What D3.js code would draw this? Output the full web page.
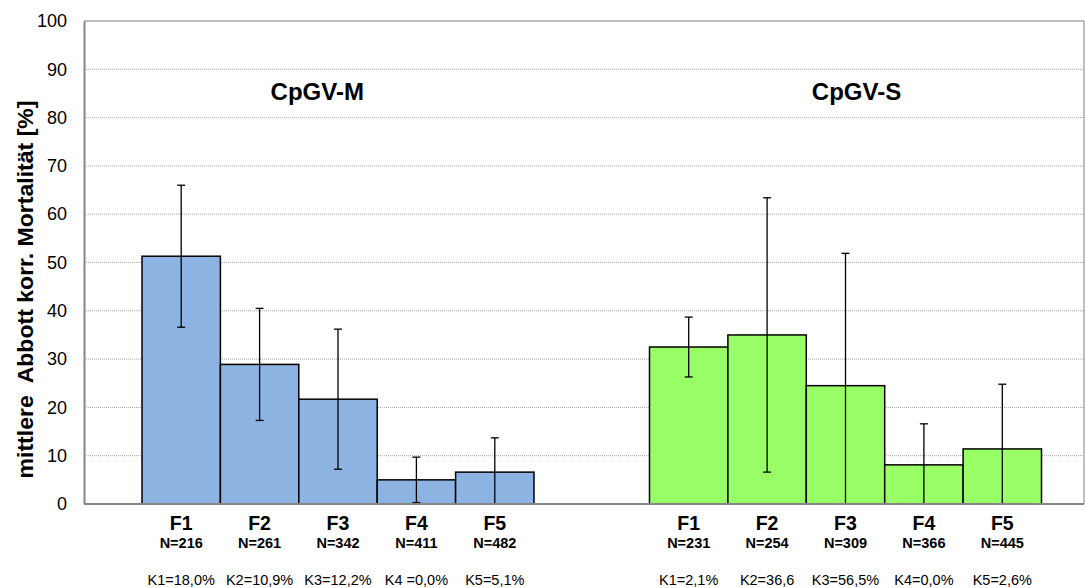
<!DOCTYPE html>
<html>
<head>
<meta charset="utf-8">
<script src="https://cdn.jsdelivr.net/npm/d3@7"></script>
<style>
  html, body { margin: 0; padding: 0; background: #fff; }
  svg { display: block; font-family: "Liberation Sans", Arial, sans-serif; }
</style>
</head>
<body>
<svg id="chart" width="1085" height="588"></svg>
<script>
// ---- data ----
const groups = ["CpGV-M", "CpGV-S"];
const categories = ["F1", "F2", "F3", "F4", "F5"];
const valuesM = [51.3, 28.9, 21.7, 5.0, 6.6];
const errorsM = [14.7, 11.6, 14.5, 4.7, 7.1];
const valuesS = [32.5, 35.0, 24.5, 8.1, 11.4];
const errorsS = [6.2, 28.4, 27.4, 8.5, 13.4];
const nLabelsM = ["N=216", "N=261", "N=342", "N=411", "N=482"];
const nLabelsS = ["N=231", "N=254", "N=309", "N=366", "N=445"];
const kLabelsM = ["K1=18,0%", "K2=10,9%", "K3=12,2%", "K4 =0,0%", "K5=5,1%"];
const kLabelsS = ["K1=2,1%", "K2=36,6", "K3=56,5%", "K4=0,0%", "K5=2,6%"];
const yTicks = [0, 10, 20, 30, 40, 50, 60, 70, 80, 90, 100];
const yTitle = "mittlere\u00a0 Abbott korr. Mortalität [%]";

const series = [
  { name: groups[0], values: valuesM, errors: errorsM, n: nLabelsM, k: kLabelsM, fill: "#8DB3E2" },
  { name: groups[1], values: valuesS, errors: errorsS, n: nLabelsS, k: kLabelsS, fill: "#99FF66" }
];

// ---- layout ----
const plot = { left: 84, right: 1084, top: 21, bottom: 504 };
const groupStart = d3.scaleOrdinal().domain(groups).range([142, 649.5]);
const groupWidth = 392;

const svg = d3.select("#chart");
const y = d3.scaleLinear().domain([0, 100]).range([plot.bottom, plot.top]);
const inner = d3.scaleBand().domain(categories).range([0, groupWidth]).padding(0);

// gridlines
svg.append("g").selectAll("line")
  .data(yTicks.filter(t => t > 0 && t < 100))
  .join("line")
  .attr("x1", plot.left).attr("x2", plot.right)
  .attr("y1", d => y(d)).attr("y2", d => y(d))
  .attr("stroke", "#a6a6a6").attr("stroke-width", 1)
  .attr("stroke-dasharray", "1,1");

// top border
svg.append("line")
  .attr("x1", plot.left).attr("x2", plot.right)
  .attr("y1", y(100)).attr("y2", y(100))
  .attr("stroke", "#808080").attr("stroke-width", 1.2);
svg.append("line")
  .attr("x1", plot.right).attr("x2", plot.right)
  .attr("y1", y(100)).attr("y2", y(0))
  .attr("stroke", "#808080").attr("stroke-width", 1);

// y axis
const yAxis = d3.axisLeft(y).tickValues(yTicks).tickSize(0).tickPadding(17);
const ya = svg.append("g").attr("transform", `translate(${plot.left},0)`).call(yAxis);
ya.select(".domain").attr("stroke", "#868686").attr("stroke-width", 2);
ya.selectAll("text").attr("font-size", 18).attr("fill", "#000")
  .attr("font-family", "Liberation Sans, Arial, sans-serif");

// y title
svg.append("text")
  .attr("transform", `translate(33,289.5) rotate(-90)`)
  .attr("text-anchor", "middle")
  .attr("font-size", 22).attr("font-weight", "bold")
  .attr("textLength", 378).attr("lengthAdjust", "spacingAndGlyphs")
  .attr("xml:space", "preserve")
  .text(yTitle);

// bars, error bars, labels
series.forEach(s => {
  const g = svg.append("g").attr("transform", `translate(${groupStart(s.name)},0)`);
  const rows = categories.map((c, i) => ({ c, v: s.values[i], e: s.errors[i], n: s.n[i], k: s.k[i] }));

  g.selectAll("rect").data(rows).join("rect")
    .attr("x", d => inner(d.c))
    .attr("y", d => y(d.v))
    .attr("width", inner.bandwidth())
    .attr("height", d => y(0) - y(d.v))
    .attr("fill", s.fill)
    .attr("stroke", "#000").attr("stroke-width", 1.5);

  const cx = d => inner(d.c) + inner.bandwidth() / 2;
  const lo = d => Math.max(0, d.v - d.e);
  const hi = d => d.v + d.e;
  const capW = 4;

  g.selectAll("line.err").data(rows).join("line").attr("class", "err")
    .attr("x1", cx).attr("x2", cx)
    .attr("y1", d => y(lo(d))).attr("y2", d => y(hi(d)))
    .attr("stroke", "#000").attr("stroke-width", 1.3);
  g.selectAll("line.capT").data(rows).join("line").attr("class", "capT")
    .attr("x1", d => cx(d) - capW).attr("x2", d => cx(d) + capW)
    .attr("y1", d => y(hi(d))).attr("y2", d => y(hi(d)))
    .attr("stroke", "#000").attr("stroke-width", 1.3);
  g.selectAll("line.capB").data(rows.filter(d => d.v - d.e > 0)).join("line").attr("class", "capB")
    .attr("x1", d => cx(d) - capW).attr("x2", d => cx(d) + capW)
    .attr("y1", d => y(lo(d))).attr("y2", d => y(lo(d)))
    .attr("stroke", "#000").attr("stroke-width", 1.3);

  g.selectAll("text.f").data(rows).join("text").attr("class", "f")
    .attr("x", cx).attr("y", 529.5)
    .attr("text-anchor", "middle").attr("font-size", 19.5).attr("font-weight", "bold")
    .text(d => d.c);
  g.selectAll("text.n").data(rows).join("text").attr("class", "n")
    .attr("x", cx).attr("y", 548)
    .attr("text-anchor", "middle").attr("font-size", 14.5).attr("font-weight", "bold")
    .text(d => d.n);
  g.selectAll("text.k").data(rows).join("text").attr("class", "k")
    .attr("x", cx).attr("y", 585)
    .attr("text-anchor", "middle").attr("font-size", 14.5)
    .text(d => d.k);

  svg.append("text")
    .attr("x", groupStart(s.name) + groupWidth * (s.name === groups[0] ? 0.447 : 0.528))
    .attr("y", 100)
    .attr("text-anchor", "middle").attr("font-size", 24).attr("font-weight", "bold")
    .text(s.name);
});

// x axis baseline
svg.append("line")
  .attr("x1", plot.left).attr("x2", plot.right)
  .attr("y1", y(0)).attr("y2", y(0))
  .attr("stroke", "#868686").attr("stroke-width", 2);
</script>
</body>
</html>
